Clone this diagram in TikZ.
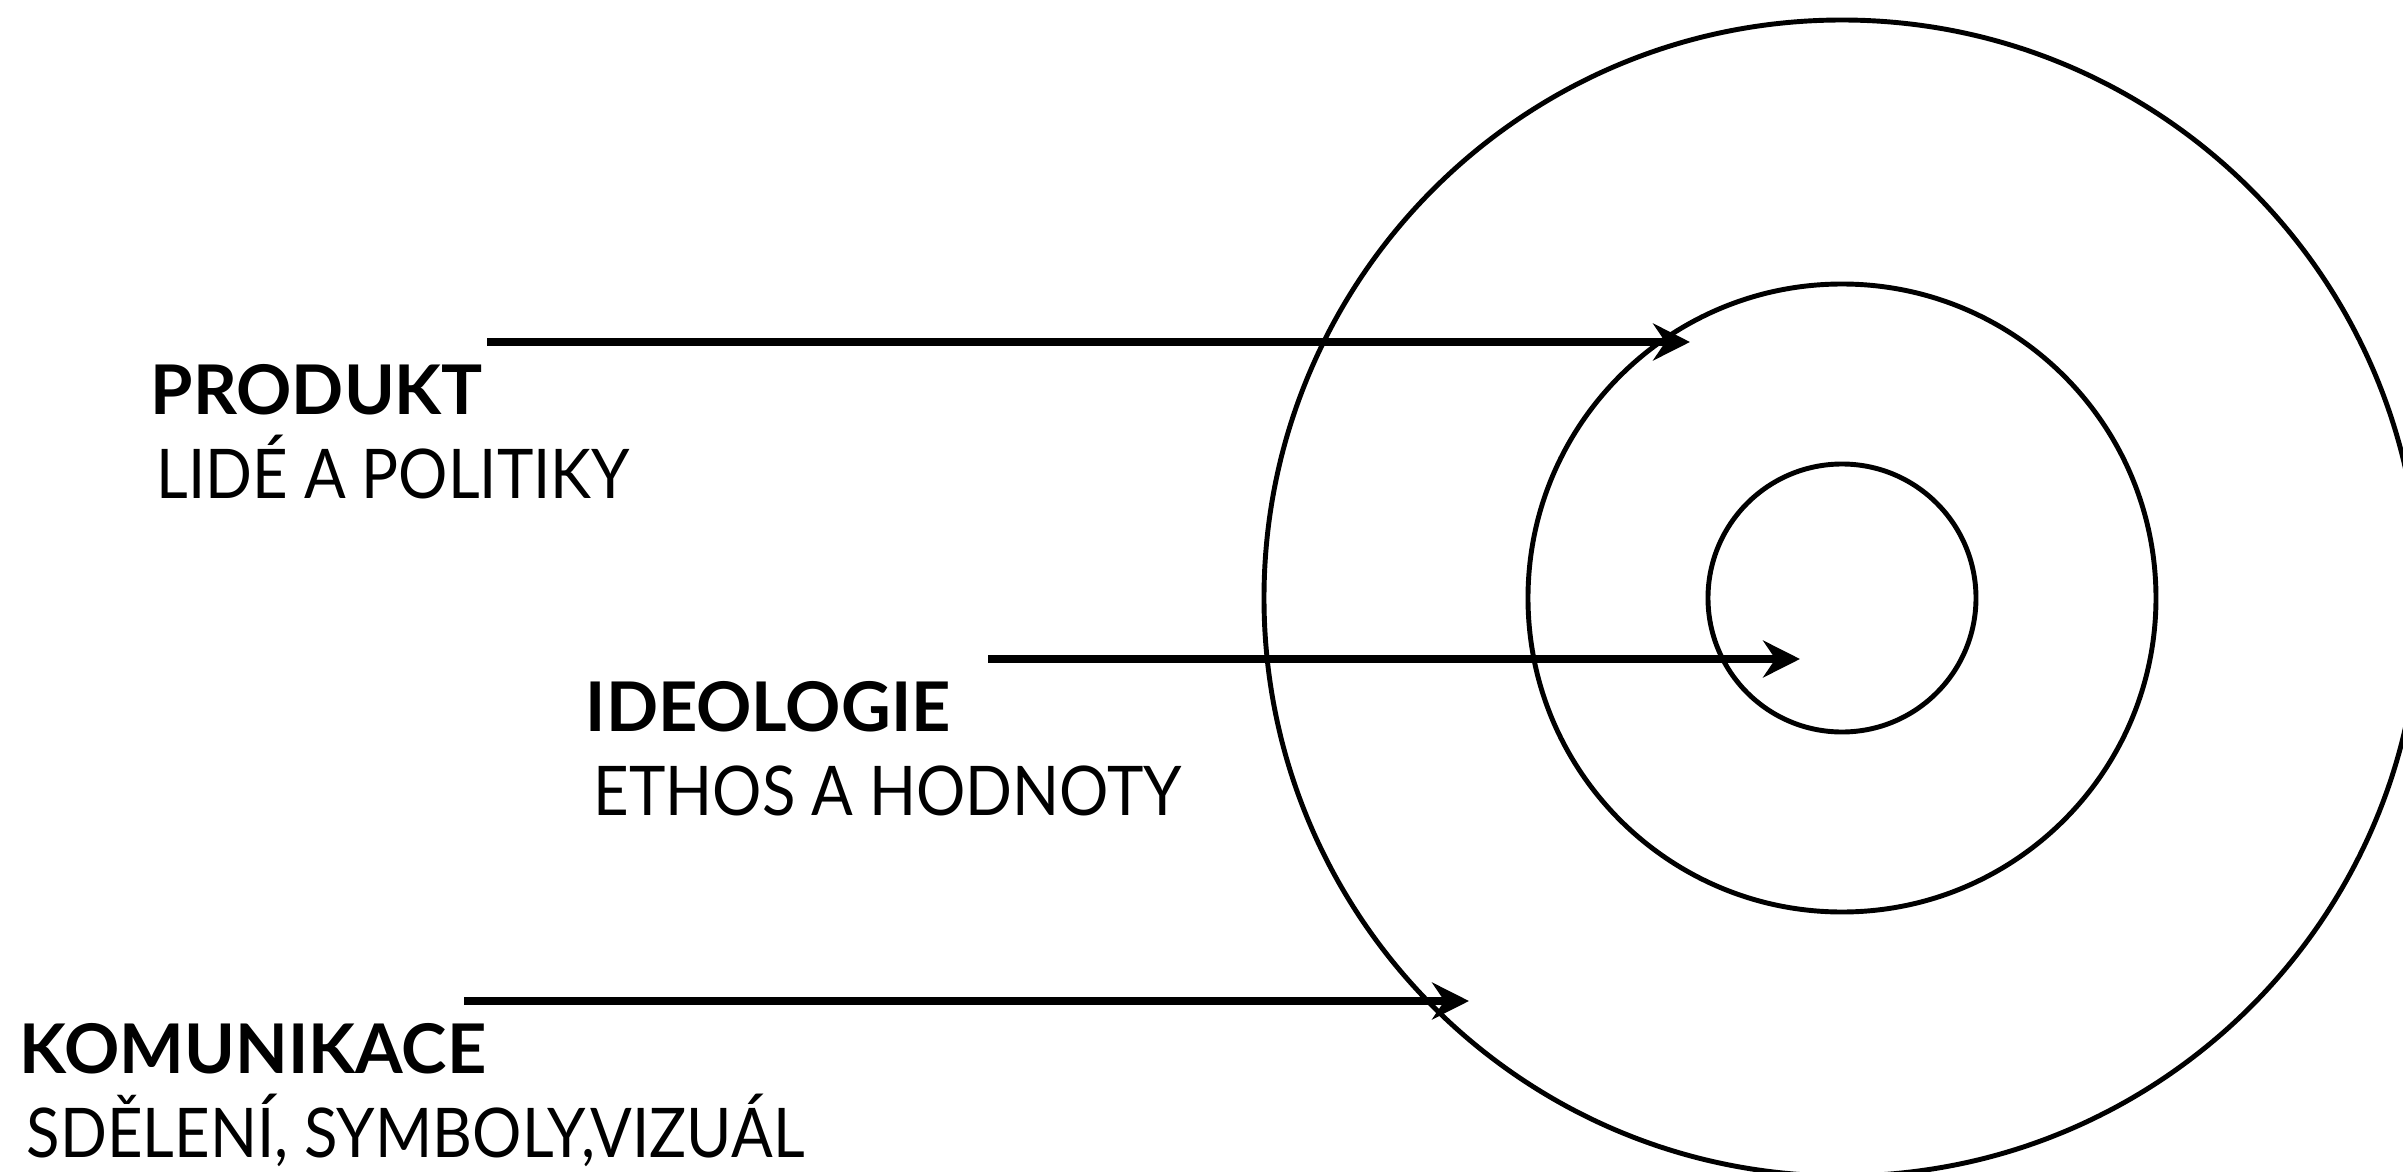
\documentclass[tikz,border=0pt]{standalone}
\usepackage{fontspec}
\setmainfont{Lato}
\usetikzlibrary{arrows.meta}
\tikzset{
  ring/.style={line width=1.4pt},
  push/.style={line width=2.4pt,-{Stealth[length=10.5pt,width=10.5pt,inset=3.5pt]}},
  head/.style={anchor=base west,inner sep=0pt,font=\fontsize{19.5}{22}\selectfont\bfseries},
  sub/.style={anchor=base west,inner sep=0pt,font=\fontsize{19.5}{22}\selectfont\addfontfeature{FakeStretch=0.9}}
}
\begin{document}
\begin{tikzpicture}
    \useasboundingbox (0,0) rectangle (24.03,-11.72);
    %% Rings
    \coordinate (C) at (18.42,-5.98);
    \draw[ring] (C) circle[radius=5.78];
    \draw[ring] (C) circle[radius=3.14];
    \draw[ring] (C) circle[radius=1.34];
    %% Labels
    \node[head] (produkt) at (1.50,-4.14) {PRODUKT};
    \node[sub] (lide) at (1.56,-4.98) {LIDÉ A POLITIKY};
    \node[head] (ideologie) at (5.85,-7.31) {IDEOLOGIE};
    \node[sub] (ethos) at (5.93,-8.15) {ETHOS A HODNOTY};
    \node[head] (komunikace) at (0.19,-10.73) {KOMUNIKACE};
    \node[sub] (sdeleni) at (0.26,-11.57) {SDĚLENÍ, SYMBOLY,VIZUÁL};
    %% Arrows
    \coordinate (produkt start) at (4.87,-3.42);
    \coordinate (produkt end) at (16.90,-3.42);
    \coordinate (ideologie start) at (9.88,-6.59);
    \coordinate (ideologie end) at (18.00,-6.59);
    \coordinate (komunikace start) at (4.64,-10.01);
    \coordinate (komunikace end) at (14.69,-10.01);
    \draw[push] (produkt start) -- (produkt end);
    \draw[push] (ideologie start) -- (ideologie end);
    \draw[push] (komunikace start) -- (komunikace end);
\end{tikzpicture}
\end{document}
